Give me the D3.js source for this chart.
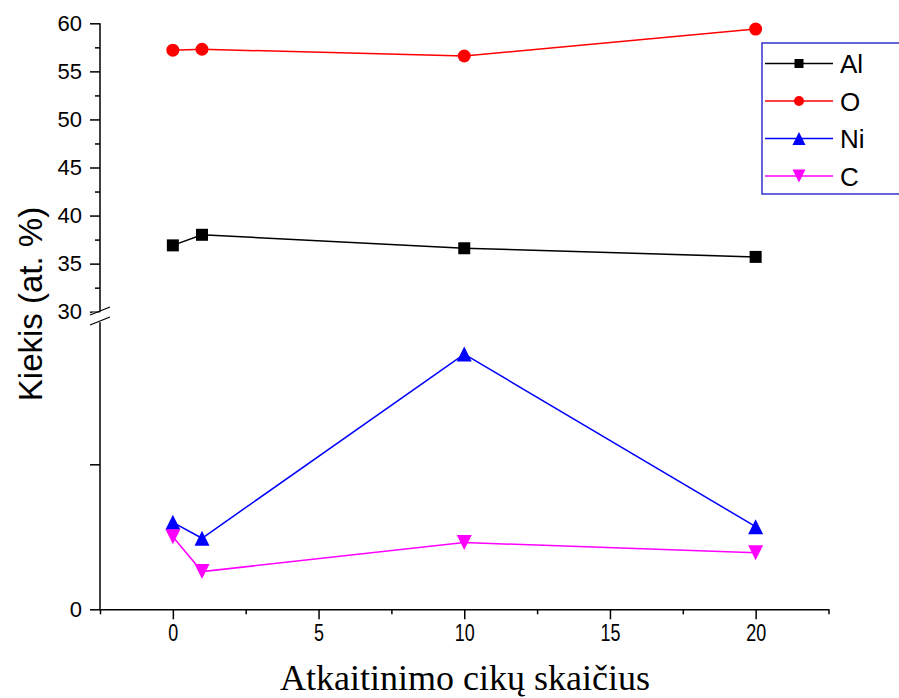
<!DOCTYPE html>
<html>
<head>
<meta charset="utf-8">
<script src="https://cdn.jsdelivr.net/npm/d3@7"></script>
<style>
  body { margin: 0; background: #fff; }
  svg { display: block; }
</style>
</head>
<body>
<svg id="chart" width="899" height="698"></svg>
<script>
// ---- data ----
const cycles = [0, 1, 10, 20];
const seriesNames = ["Al", "O", "Ni", "C"];
const alValues = [36.9, 38.0, 36.6, 35.7];
const oValues = [57.2, 57.3, 56.6, 59.4];
const niValues = [3.0, 2.45, 8.8, 2.85];
const cValues = [2.5, 1.3, 2.3, 1.95];
const xTicks = [0, 5, 10, 15, 20];
const yUpperTicks = [30, 35, 40, 45, 50, 55, 60];
const yLowerTicks = [0, 5];
const yLowerLabels = ["0", ""];
const xTitle = "Atkaitinimo cikų skaičius";
const yTitle = "Kiekis (at. %)";

const series = [
  { name: "Al", values: alValues, color: "#000000", symbol: "square", panel: "upper" },
  { name: "O",  values: oValues,  color: "#ff0000", symbol: "circle", panel: "upper" },
  { name: "Ni", values: niValues, color: "#0000ff", symbol: "up",     panel: "lower" },
  { name: "C",  values: cValues,  color: "#ff00ff", symbol: "down",   panel: "lower" }
];

const svg = d3.select("#chart");
const x = d3.scaleLinear().domain([-2.5, 22.5]).range([100, 828.5]);
const yUp = d3.scaleLinear().domain([30, 60]).range([311.7, 23.3]);
const yLow = d3.scaleLinear().domain([0, 10]).range([609.3, 319.3]);
const sansFont = "'Liberation Sans', Arial, sans-serif";

// ---- axes ----
const gUp = svg.append("g").attr("transform", "translate(100,0)")
  .call(d3.axisLeft(yUp).tickValues(yUpperTicks).tickSize(10).tickPadding(8).tickSizeOuter(0));
const gUpMinor = svg.append("g").attr("transform", "translate(100,0)")
  .call(d3.axisLeft(yUp).tickValues(d3.range(32.5, 60, 5)).tickSize(5).tickFormat("").tickSizeOuter(0));
gUpMinor.select(".domain").remove();
const gLow = svg.append("g").attr("transform", "translate(100,0)")
  .call(d3.axisLeft(yLow).tickValues(yLowerTicks).tickSize(10).tickPadding(8)
    .tickFormat((d, i) => yLowerLabels[i]).tickSizeOuter(0));
gLow.select(".domain").attr("d", `M0,${yLow(9.9)}V${yLow(0)}`);
gUp.select(".domain").attr("d", `M0,${yUp(60)}V${yUp(30)}`);

[gUp, gLow].forEach(g => {
  g.selectAll("text").attr("font-family", sansFont).attr("font-size", 22).attr("fill", "#000");
  g.selectAll("line,path").attr("stroke", "#000").attr("stroke-width", 1.5);
});
gUpMinor.selectAll("line").attr("stroke", "#000").attr("stroke-width", 1.5);

// break marks
const brk = svg.append("g").attr("stroke", "#000").attr("stroke-width", 1.2);
brk.append("rect").attr("x", 92).attr("y", 312.5).attr("width", 16).attr("height", 9).attr("fill", "#fff").attr("stroke", "none");
brk.append("line").attr("x1", 90).attr("y1", 315).attr("x2", 110).attr("y2", 307);
brk.append("line").attr("x1", 90).attr("y1", 325).attr("x2", 110).attr("y2", 317);

// x axis
const gx = svg.append("g").attr("transform", `translate(0,${yLow(0)})`)
  .call(d3.axisBottom(x).tickValues(xTicks).tickSize(10).tickPadding(5).tickSizeOuter(0));
const gxMinor = svg.append("g").attr("transform", `translate(0,${yLow(0)})`)
  .call(d3.axisBottom(x).tickValues([-2.5, 2.5, 7.5, 12.5, 17.5, 22.5]).tickSize(5).tickFormat("").tickSizeOuter(0));
gxMinor.select(".domain").remove();
gx.selectAll("line,path").attr("stroke", "#000").attr("stroke-width", 1.5);
gxMinor.selectAll("line").attr("stroke", "#000").attr("stroke-width", 1.5);
gx.selectAll("text").attr("font-family", "'Liberation Sans Narrow', 'Arial Narrow', 'Liberation Sans', sans-serif")
  .attr("font-size", 23).attr("fill", "#000").attr("transform", "scale(0.78,1)");

// titles
svg.append("text").attr("x", 465).attr("y", 690).attr("text-anchor", "middle")
  .attr("font-family", "'Liberation Serif', 'Times New Roman', serif").attr("font-size", 36).attr("fill", "#000")
  .text(xTitle);
svg.append("text").attr("transform", "translate(42,304) rotate(-90)").attr("text-anchor", "middle")
  .attr("font-family", sansFont).attr("font-size", 33).attr("fill", "#000")
  .text(yTitle);

// ---- symbols ----
function drawSymbol(g, type, cx, cy, size, color) {
  if (type === "square") {
    g.append("rect").attr("x", cx - size / 2).attr("y", cy - size / 2).attr("width", size).attr("height", size).attr("fill", color);
  } else if (type === "circle") {
    g.append("circle").attr("cx", cx).attr("cy", cy).attr("r", size / 2).attr("fill", color);
  } else if (type === "up") {
    const h = size;
    g.append("path").attr("d", `M${cx},${cy - h / 2}L${cx + size / 2},${cy + h / 2}L${cx - size / 2},${cy + h / 2}Z`).attr("fill", color);
  } else if (type === "down") {
    const h = size;
    g.append("path").attr("d", `M${cx},${cy + h / 2}L${cx + size / 2},${cy - h / 2}L${cx - size / 2},${cy - h / 2}Z`).attr("fill", color);
  }
}
const markerSize = { square: 12, circle: 13, up: 15, down: 15 };

series.forEach(s => {
  const y = s.panel === "upper" ? yUp : yLow;
  const pts = cycles.map((c, i) => [x(c), y(s.values[i])]);
  svg.append("path").attr("d", d3.line()(pts)).attr("fill", "none").attr("stroke", s.color).attr("stroke-width", 1.5);
  const g = svg.append("g");
  pts.forEach(p => drawSymbol(g, s.symbol, p[0], p[1], markerSize[s.symbol], s.color));
});

// ---- legend ----
const legend = svg.append("g");
legend.append("rect").attr("x", 762).attr("y", 43).attr("width", 150).attr("height", 151)
  .attr("fill", "#fff").attr("stroke", "#3333cc").attr("stroke-width", 1.5);
const legendRowY = d3.scalePoint().domain(seriesNames).range([63.5, 176]);
const legendMarker = { square: 9, circle: 10, up: 13, down: 13 };
series.forEach(s => {
  const ly = legendRowY(s.name);
  legend.append("line").attr("x1", 765).attr("x2", 833).attr("y1", ly).attr("y2", ly)
    .attr("stroke", s.color).attr("stroke-width", 1.5);
  drawSymbol(legend, s.symbol, 799, ly, legendMarker[s.symbol], s.color);
  legend.append("text").attr("x", 840).attr("y", ly + 9.5).attr("font-family", sansFont)
    .attr("font-size", 26).attr("fill", "#000").text(s.name);
});
</script>
</body>
</html>
